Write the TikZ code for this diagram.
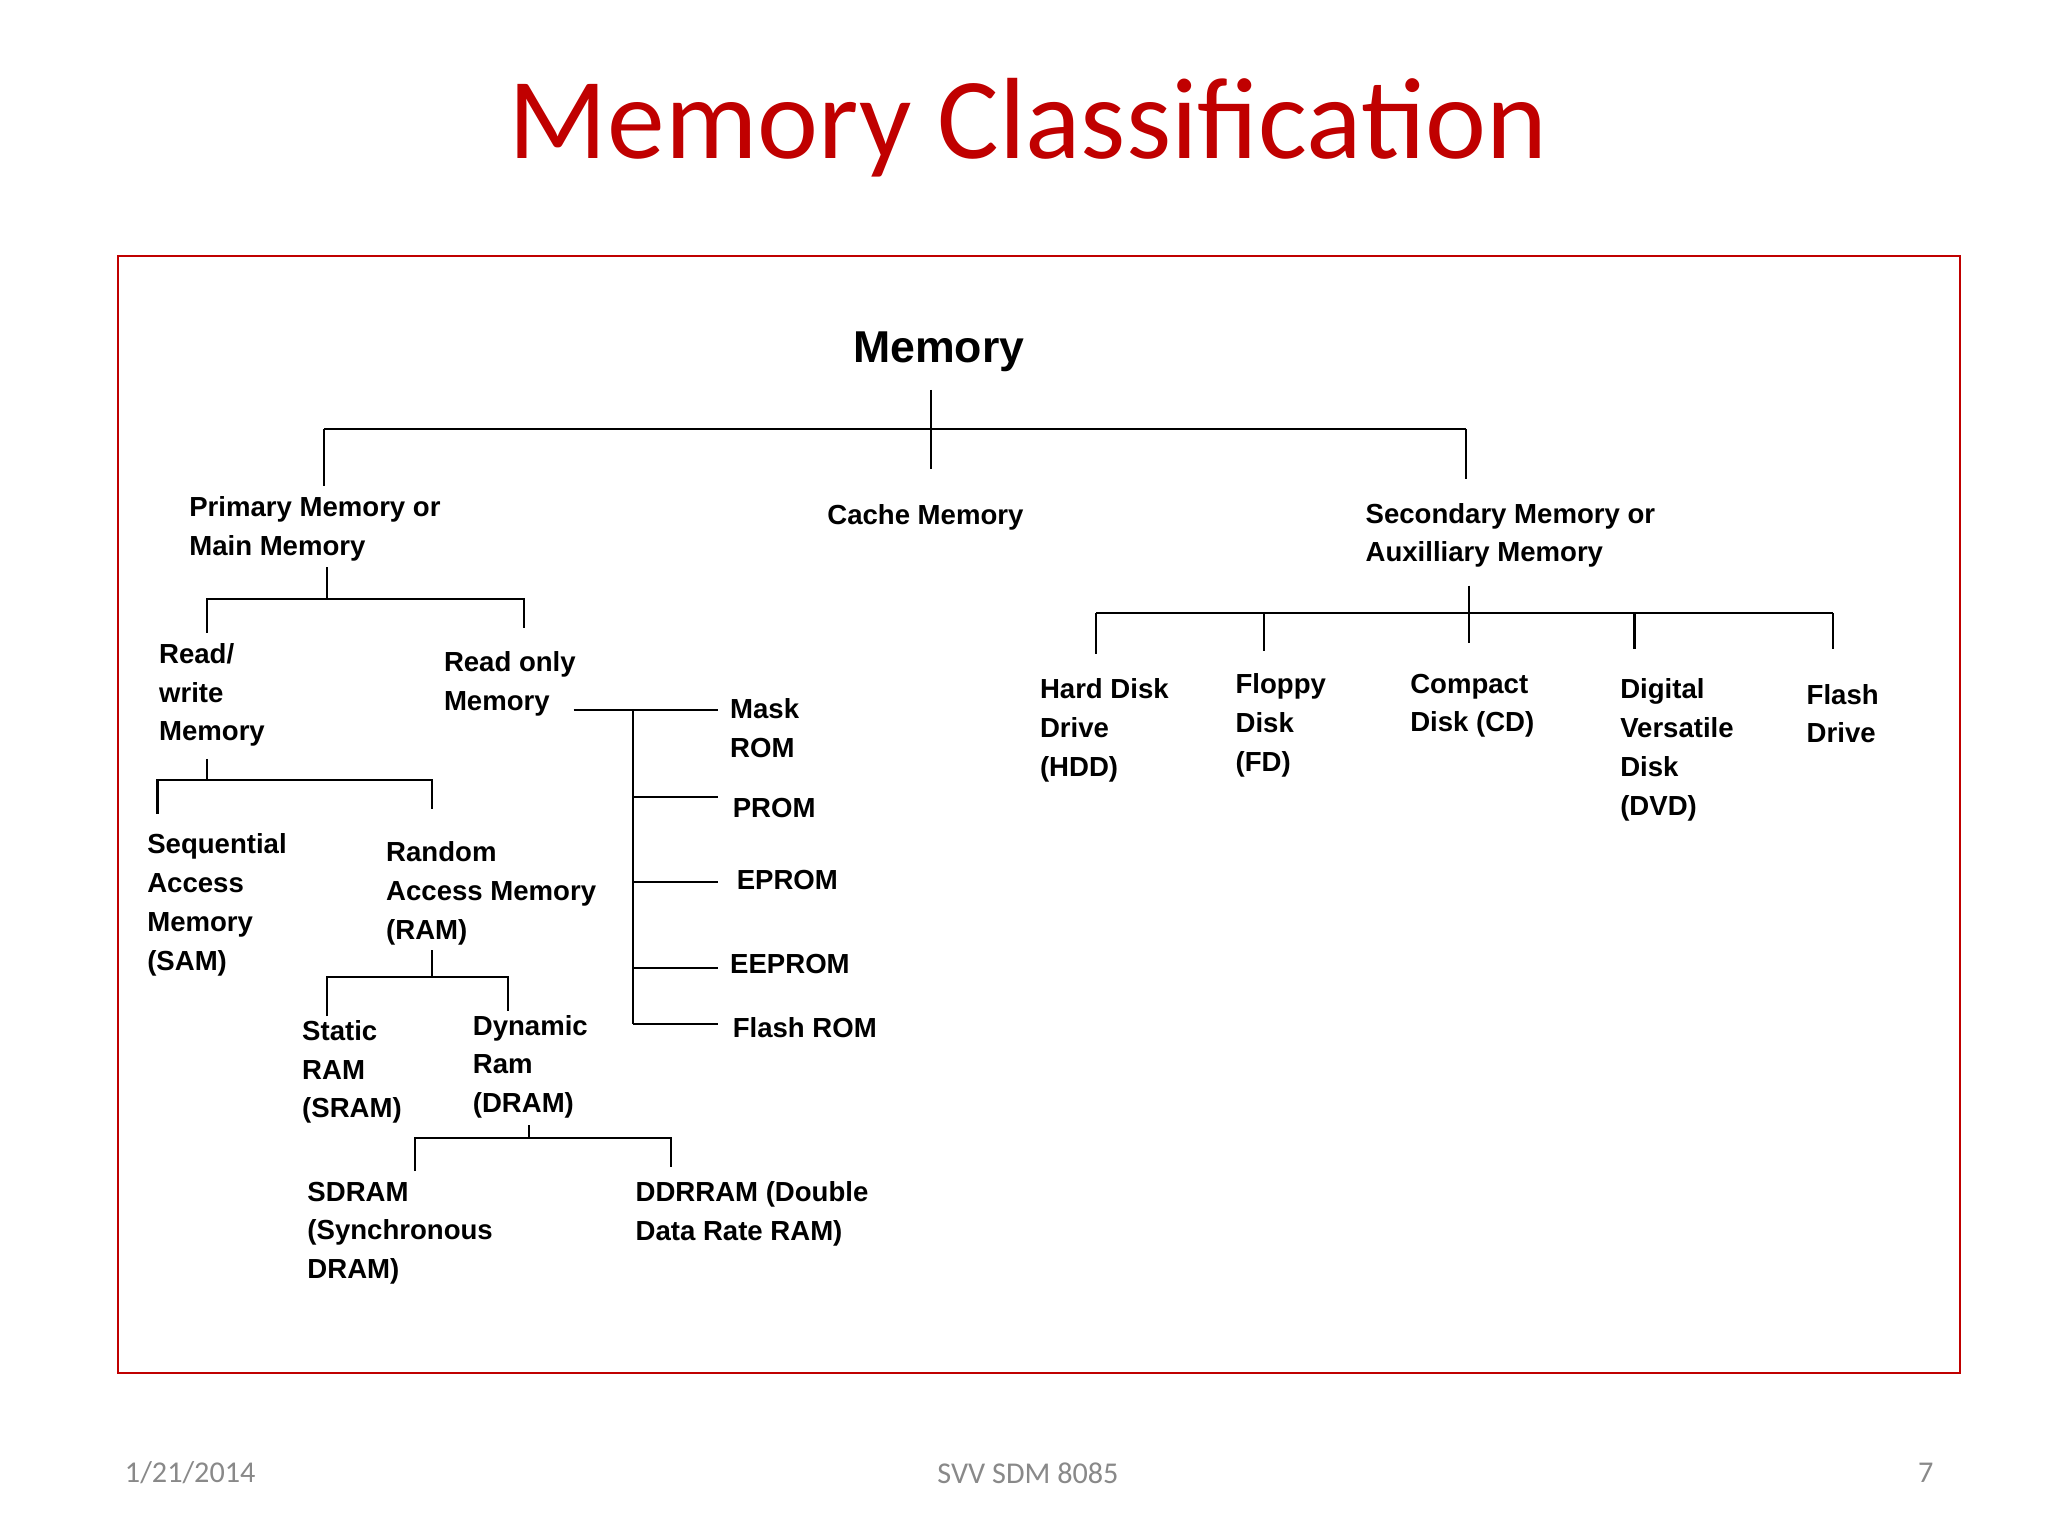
\documentclass[tikz,border=0pt]{standalone}
\usepackage{fontspec}
\setmainfont{Liberation Sans}
\newfontfamily\calib{Carlito}
\definecolor{tred}{RGB}{192,0,0}
\definecolor{fgray}{RGB}{137,137,137}
\begin{document}
\begin{tikzpicture}[x=1pt,y=-1pt,
  lbl/.style={anchor=north west,inner sep=0pt,align=left,font=\fontsize{21}{29.5}\selectfont\bfseries},
  ln/.style={line width=1.6pt,black}]
\useasboundingbox[fill=white] (0,0) rectangle (1560,1170);
\node[font=\calib\fontsize{88}{90}\selectfont,text=tred] (title) at (783,97) {Memory Classification};
\draw[tred,line width=1.6pt] (90,195) rectangle (1493,1046);
\node[font=\fontsize{34}{36}\selectfont\bfseries] (mem) at (715,268) {Memory};
% level 1
\coordinate (m0) at (709,297); \coordinate (m1) at (709,357);
\coordinate (mL) at (247,327); \coordinate (mR) at (1117,327);
\draw[ln] (m0) -- (m1); \draw[ln] (mL|-m0) ++(0,30) coordinate(a) (mL) -- (mR);
\draw[ln] (mL) -- (247,370); \draw[ln] (mR) -- (1117,365);
\node[lbl] (prim) at (144,378) {Primary Memory or\\Main Memory};
\node[lbl] (cache) at (630,384) {Cache Memory};
\node[lbl] (sec) at (1040,383) {Secondary Memory or\\Auxilliary Memory};
% primary
\draw[ln] (249,432) -- (249,456); \draw[ln] (158,482) -- (158,456) -- (399,456) -- (399,478);
\node[lbl] (rw) at (121,490) {Read/\\write\\Memory};
\node[lbl] (ro) at (338,496) {Read only\\Memory};
% ROM
\coordinate (r0) at (437,541);
\draw[ln] (r0) -- (547,541); \draw[ln] (482,541) -- (482,780);
\foreach \y in {607,672,737,780} \draw[ln] (482,\y) -- (547,\y);
\node[lbl] (mask) at (556,532) {Mask\\ROM};
\node[lbl] (prom) at (558,608) {PROM};
\node[lbl] (eprom) at (561,663) {EPROM};
\node[lbl] (eeprom) at (556,727) {EEPROM};
\node[lbl] (from) at (558,775) {Flash ROM};
% RW
\draw[ln] (158,578) -- (158,594); \draw[ln] (120,620) -- (120,594) -- (329,594) -- (329,616);
\node[lbl] (sam) at (112,635) {Sequential\\Access\\Memory\\(SAM)};
\node[lbl] (ram) at (294,641) {Random\\Access Memory\\(RAM)};
% RAM
\draw[ln] (329,724) -- (329,744); \draw[ln] (249,774) -- (249,744) -- (387,744) -- (387,770);
\node[lbl] (sram) at (230,777) {Static\\RAM\\(SRAM)};
\node[lbl] (dram) at (360,773) {Dynamic\\Ram\\(DRAM)};
% DRAM
\draw[ln] (403,857) -- (403,867); \draw[ln] (316,892) -- (316,867) -- (511,867) -- (511,889);
\node[lbl] (sd) at (234,900) {SDRAM\\(Synchronous\\DRAM)};
\node[lbl] (ddr) at (484,900) {DDRRAM (Double\\Data Rate RAM)};
% secondary
\draw[ln] (1119,446) -- (1119,490); \draw[ln] (835,467) -- (1396,467);
\draw[ln] (835,467) -- (835,498); \draw[ln] (963,467) -- (963,496);
\draw[ln] (1245,467) -- (1245,494); \draw[ln] (1396,467) -- (1396,494);
\node[lbl] (hdd) at (792,517) {Hard Disk\\Drive\\(HDD)};
\node[lbl] (fd) at (941,513) {Floppy\\Disk\\(FD)};
\node[lbl] (cd) at (1074,513) {Compact\\Disk (CD)};
\node[lbl] (dvd) at (1234,517) {Digital\\Versatile\\Disk\\(DVD)};
\node[lbl] (fl) at (1376,521) {Flash\\Drive};
% footer
\node[anchor=west,inner sep=0pt,font=\calib\fontsize{23}{25}\selectfont,text=fgray] (date) at (95,1122) {1/21/2014};
\node[inner sep=0pt,font=\calib\fontsize{23}{25}\selectfont,text=fgray] (ft) at (783,1122) {SVV SDM 8085};
\node[anchor=east,inner sep=0pt,font=\calib\fontsize{23}{25}\selectfont,text=fgray] (pg) at (1473,1122) {7};
\end{tikzpicture}
\end{document}
